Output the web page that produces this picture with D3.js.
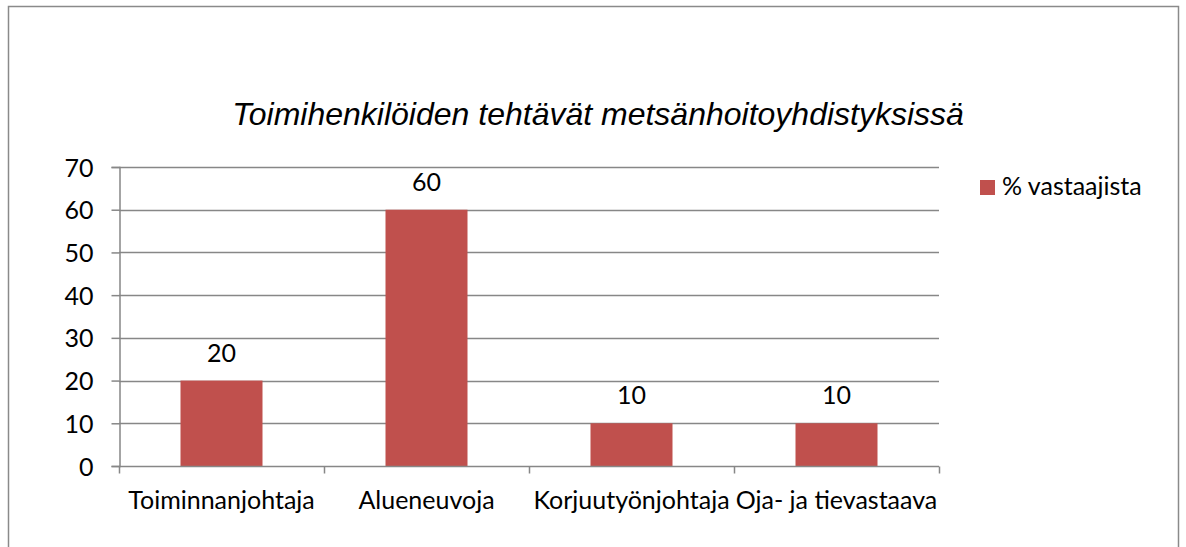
<!DOCTYPE html>
<html>
<head>
<meta charset="utf-8">
<script src="https://cdn.jsdelivr.net/npm/d3@7"></script>
<style>
html,body{margin:0;padding:0;background:#fff;}
svg{display:block;}
</style>
</head>
<body>
<svg id="chart" width="1186" height="547"></svg>
<script>
const categories = ["Toiminnanjohtaja", "Alueneuvoja", "Korjuutyönjohtaja", "Oja- ja tievastaava"];
const values = [20, 60, 10, 10];
const seriesName = "% vastaajista";
const yTicks = [0, 10, 20, 30, 40, 50, 60, 70];
const title = "Toimihenkilöiden tehtävät metsänhoitoyhdistyksissä";

(function () {
const svg = d3.select("#chart");
const bodyFont = "Lato, 'Open Sans', sans-serif";
const fs = 25;
const gridColor = "#878787";
const barColor = "#C0504D";

// outer frame
svg.append("rect").attr("x", 8.5).attr("y", 6.5).attr("width", 1170).attr("height", 600)
  .attr("fill", "#fff").attr("stroke", "#8a8a8a").attr("stroke-width", 1.5);

const pL = 119, pR = 939, pT = 167, pB = 466;
const x = d3.scaleBand().domain(categories).range([pL, pR]).padding(0);
const y = d3.scaleLinear().domain([0, 70]).range([pB, pT]);

// title
svg.append("text").attr("x", 598).attr("y", 125).attr("text-anchor", "middle")
  .attr("font-family", "'Liberation Sans', Arial, sans-serif").attr("font-style", "italic")
  .attr("font-size", 32).attr("fill", "#000").text(title);

// gridlines
svg.append("g").selectAll("line").data(yTicks.filter(d => d > 0)).join("line")
  .attr("x1", pL).attr("x2", pR)
  .attr("y1", d => Math.round(y(d)) + 0.5).attr("y2", d => Math.round(y(d)) + 0.5)
  .attr("stroke", gridColor).attr("stroke-width", 1.5);

// y axis
const yAxis = d3.axisLeft(y).tickValues(yTicks).tickSize(8).tickPadding(18).tickFormat(d3.format("d"));
const gy = svg.append("g").attr("transform", `translate(${pL + 0.5},0)`).call(yAxis);
gy.select(".domain").attr("stroke", gridColor).attr("stroke-width", 1.5);
gy.selectAll(".tick line").attr("stroke", gridColor).attr("stroke-width", 1.5);
gy.selectAll(".tick text").attr("font-family", bodyFont).attr("font-size", fs).attr("fill", "#000").attr("dy", "0.36em");

// bars
const barW = x.bandwidth() * 0.4;
svg.append("g").selectAll("rect").data(values).join("rect")
  .attr("x", (d, i) => x(categories[i]) + (x.bandwidth() - barW) / 2)
  .attr("y", d => y(d))
  .attr("width", barW)
  .attr("height", d => y(0) - y(d))
  .attr("fill", barColor);

// value labels
svg.append("g").selectAll("text").data(values).join("text")
  .attr("x", (d, i) => x(categories[i]) + x.bandwidth() / 2)
  .attr("y", d => y(d) - 19)
  .attr("text-anchor", "middle")
  .attr("font-family", bodyFont).attr("font-size", fs).attr("fill", "#000")
  .text(d => d);

// x axis
const gx = svg.append("g").attr("transform", `translate(0,${pB + 0.5})`);
gx.append("line").attr("x1", pL).attr("x2", pR).attr("stroke", gridColor).attr("stroke-width", 1.5);
const boundaries = categories.map(c => x(c)).concat([pR]);
gx.selectAll("line.tk").data(boundaries).join("line").attr("class", "tk")
  .attr("x1", d => d + 0.5).attr("x2", d => d + 0.5).attr("y1", 0).attr("y2", 7)
  .attr("stroke", gridColor).attr("stroke-width", 1.5);
gx.selectAll("text").data(categories).join("text")
  .attr("x", d => x(d) + x.bandwidth() / 2).attr("y", 42)
  .attr("text-anchor", "middle")
  .attr("font-family", bodyFont).attr("font-size", fs).attr("fill", "#000")
  .text(d => d);

// legend
const lg = svg.append("g");
lg.append("rect").attr("x", 980).attr("y", 180).attr("width", 15).attr("height", 15).attr("fill", barColor);
lg.append("text").attr("x", 1002).attr("y", 195)
  .attr("font-family", bodyFont).attr("font-size", fs).attr("fill", "#000").text(seriesName);
})();
</script>
</body>
</html>
